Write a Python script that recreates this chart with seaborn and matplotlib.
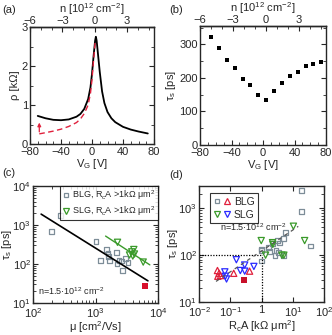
import numpy as np
import pandas as pd
import matplotlib
matplotlib.use("Agg")
import matplotlib.pyplot as plt
import seaborn as sns
from matplotlib.ticker import MultipleLocator, LogLocator, FixedLocator, FuncFormatter, NullFormatter
from matplotlib.lines import Line2D
from matplotlib.legend_handler import HandlerTuple

# ---------------- data ----------------
# (a) resistivity vs gate voltage
vg_black = [-70, -60, -50, -40, -30, -20, -15, -10, -5, -2, 0, 2, 4, 5, 6, 8, 10, 13, 16, 20, 25, 30, 40, 50, 60, 72]
rho_black = [0.72, 0.66, 0.62, 0.61, 0.63, 0.70, 0.77, 0.90, 1.15, 1.45, 1.80, 2.25, 2.65, 2.75, 2.65, 2.25, 1.85, 1.35, 1.05, 0.82, 0.66, 0.56, 0.44, 0.37, 0.32, 0.27]
vg_red = [-68, -60, -50, -40, -30, -20, -15, -10, -5, -2, 0, 2, 4]
rho_red = [0.26, 0.29, 0.33, 0.38, 0.45, 0.55, 0.64, 0.78, 1.00, 1.30, 1.65, 2.15, 2.60]
arrow_v = [-68, -68]
arrow_rho = [0.24, 0.62]

# (b) spin lifetime vs gate voltage
vg_tau = [-66, -56, -46, -36, -26, -16, -6, 4, 14, 24, 34, 44, 54, 64, 74]
tau_vg = [321, 290, 253, 229, 197, 178, 149, 135, 160, 184, 205, 219, 235, 243, 249]

# (c) spin lifetime vs mobility
mu_blg = [198, 275, 1020, 1210, 1490, 1590, 1630, 1660, 2180, 2210, 2380, 2620, 2690, 2990, 3300]
tau_blg = [690, 1770, 370, 125, 240, 185, 155, 122, 200, 100, 125, 120, 68, 140, 110]
mu_slg = [2250, 3500, 3800, 4100, 4200, 3950, 5800]
tau_slg = [360, 170, 205, 235, 180, 160, 112]
mu_red = [6300]
tau_red = [28]
fit_blg_mu = [135, 6900]
fit_blg_tau = [1900, 37]
fit_slg_mu = [1450, 7400]
fit_slg_tau = [520, 95]

# (d) spin lifetime vs contact resistance area product
rca_blg_gray = [19, 19.5, 5.8, 5.1, 3.3, 2.3, 1.67, 1.02, 0.98, 1.8, 2.9, 3.5, 2.7, 5.1, 0.98, 38, 3.7]
tau_blg_gray = [2380, 843, 300, 223, 205, 179, 146, 135, 124, 120, 128, 115, 97, 97, 75, 157, 182]
rca_slg_green = [0.98, 1.35, 2.3, 2.25, 4.5, 5.2, 10.5, 24]
tau_slg_green = [205, 100, 170, 185, 100, 100, 415, 205]
rca_blg_red = [0.039, 0.044, 0.040, 0.049, 0.129, 0.416]
tau_blg_red = [47, 41, 35.5, 36.7, 41, 45.6]
rca_slg_blue = [0.067, 0.070, 0.076, 0.157, 0.21, 0.29, 0.29, 0.57]
tau_slg_blue = [44, 35.5, 31, 80, 47, 45.6, 61.6, 57.5]
rca_sq = [0.275]
tau_sq = [29.5]
dash_rca = [0.035, 15]
dash_tau = [27.5, 412]
guide_h_rca = [0.01, 1]
guide_h_tau = [100, 100]
guide_v_rca = [1, 1]
guide_v_tau = [10, 100]

# ---------------- style ----------------
sns.set_style("ticks")
plt.rcParams["font.family"] = ["Liberation Sans", "DejaVu Sans"]
plt.rcParams["font.size"] = 8
plt.rcParams["mathtext.fontset"] = "custom"
plt.rcParams["mathtext.rm"] = "Liberation Sans"
plt.rcParams["mathtext.it"] = "Liberation Sans:italic"
plt.rcParams["mathtext.bf"] = "Liberation Sans:bold"
plt.rcParams["axes.linewidth"] = 1.0
plt.rcParams["xtick.direction"] = "in"
plt.rcParams["ytick.direction"] = "in"
plt.rcParams["xtick.major.size"] = 3.5
plt.rcParams["ytick.major.size"] = 3.5
plt.rcParams["xtick.minor.size"] = 2
plt.rcParams["ytick.minor.size"] = 2
plt.rcParams["xtick.major.pad"] = 2.5
plt.rcParams["ytick.major.pad"] = 1.5

GRAY = "#7d8d98"
GREEN = "#3a9a2a"
RED = "#e0203c"
BLUE = "#2a2aff"

fig = plt.figure(figsize=(3.32, 3.35), dpi=100)
W, H = 332.0, 335.0

def make_ax(x0, x1, y0, y1):
    return fig.add_axes([x0 / W, 1 - y1 / H, (x1 - x0) / W, (y1 - y0) / H])

ax_a = make_ax(30, 154, 27, 144)
ax_b = make_ax(200, 326, 26, 145)
ax_c = make_ax(33, 158, 186, 303)
ax_d = make_ax(199, 324, 186, 302)

def v2n(v):
    return (np.asarray(v) - 3.6) / 13.9

def n2v(n):
    return np.asarray(n) * 13.9 + 3.6

for ax in (ax_a, ax_b):
    ax.set_xlim(-80, 80)
    ax.xaxis.set_major_locator(MultipleLocator(40))
    ax.xaxis.set_minor_locator(MultipleLocator(10))
    ax.tick_params(which="both", top=False, right=True)
    ax.set_xlabel("V$_\\mathrm{G}$ [V]", labelpad=-0.5)
    sec = ax.secondary_xaxis("top", functions=(v2n, n2v))
    sec.set_xticks([-6, -3, 0, 3])
    sec.xaxis.set_minor_locator(MultipleLocator(1))
    sec.tick_params(which="both", direction="in", pad=1)
    sec.set_xlabel("n [10$^{12}$ cm$^{-2}$]", labelpad=2)

# (a)
sns.lineplot(x=vg_black, y=rho_black, ax=ax_a, color="black", lw=1.3, sort=False, estimator=None)
sns.lineplot(x=vg_red, y=rho_red, ax=ax_a, color=RED, lw=1.0, sort=False, estimator=None, dashes=False)
ax_a.lines[-1].set_linestyle((0, (4, 2.5)))
ax_a.annotate("", xy=(arrow_v[1], arrow_rho[1]), xytext=(arrow_v[0], arrow_rho[0]),
              arrowprops=dict(arrowstyle="-|>", color=RED, lw=0.9, mutation_scale=5))
ax_a.set_ylim(0, 3)
ax_a.yaxis.set_major_locator(MultipleLocator(1))
ax_a.yaxis.set_minor_locator(MultipleLocator(0.5))
ax_a.set_ylabel("ρ [kΩ]", labelpad=1)

# (b)
sns.scatterplot(x=vg_tau, y=tau_vg, ax=ax_b, color="black", marker="s", s=9, linewidth=0)
ax_b.set_ylim(0, 355)
ax_b.yaxis.set_major_locator(MultipleLocator(100))
ax_b.yaxis.set_minor_locator(MultipleLocator(50))
ax_b.set_ylabel("τ$_\\mathrm{s}$ [ps]", labelpad=1)

# log axes common
for ax in (ax_c, ax_d):
    ax.set_xscale("log")
    ax.set_yscale("log")
    ax.tick_params(which="both", top=True, right=True)
    ax.xaxis.set_minor_locator(LogLocator(base=10, subs=np.arange(2, 10)))
    ax.yaxis.set_minor_locator(LogLocator(base=10, subs=np.arange(2, 10)))
    ax.xaxis.set_minor_formatter(NullFormatter())
    ax.yaxis.set_minor_formatter(NullFormatter())
    ax.set_ylabel("τ$_\\mathrm{s}$ [ps]", labelpad=-1)

# (c)
sns.lineplot(x=fit_blg_mu, y=fit_blg_tau, ax=ax_c, color="black", lw=1.2, sort=False, estimator=None)
sns.lineplot(x=fit_slg_mu, y=fit_slg_tau, ax=ax_c, color=GREEN, lw=1.0, sort=False, estimator=None)
sns.scatterplot(x=mu_blg, y=tau_blg, ax=ax_c, marker="s", s=12, facecolor="none", edgecolor=GRAY, linewidth=0.9)
sns.scatterplot(x=mu_slg, y=tau_slg, ax=ax_c, marker="v", s=20, facecolor="none", edgecolor=GREEN, linewidth=0.9)
sns.scatterplot(x=mu_red, y=tau_red, ax=ax_c, marker="s", s=16, color="#d8102c", linewidth=0)
ax_c.set_xlim(1e2, 1e4)
ax_c.set_ylim(1e1, 1e4)
ax_c.set_xlabel("μ [cm$^2$/Vs]", labelpad=-0.5)
h1 = Line2D([], [], ls="none", marker="s", ms=3.5, mfc="none", mec=GRAY, mew=0.9)
h2 = Line2D([], [], ls="none", marker="v", ms=4.5, mfc="none", mec=GREEN, mew=0.9)
leg = ax_c.legend([h1, h2], ["BLG, R$_\\mathrm{c}$A >1kΩ μm$^2$", "SLG, R$_\\mathrm{c}$A >1kΩ μm$^2$"],
                  loc="upper right", bbox_to_anchor=(1.0, 1.0), borderaxespad=0.0, fontsize=6.5,
                  handlelength=0.8, handletextpad=0.3, borderpad=0.25, labelspacing=0.25,
                  frameon=True, fancybox=False, edgecolor="black")
leg.get_frame().set_linewidth(0.8)
ax_c.text(0.04, 0.1, "n=1.5·10$^{12}$ cm$^{-2}$", transform=ax_c.transAxes, fontsize=6.5, va="center", ha="left")

# (d)
sns.lineplot(x=guide_h_rca, y=guide_h_tau, ax=ax_d, color="black", lw=0.9, sort=False, estimator=None)
ax_d.lines[-1].set_linestyle((0, (1, 1.2)))
sns.lineplot(x=guide_v_rca, y=guide_v_tau, ax=ax_d, color="black", lw=0.9, sort=False, estimator=None)
ax_d.lines[-1].set_linestyle((0, (1, 1.2)))
sns.lineplot(x=dash_rca, y=dash_tau, ax=ax_d, color="#555555", lw=0.9, sort=False, estimator=None)
ax_d.lines[-1].set_linestyle((0, (3, 3)))
sns.scatterplot(x=rca_blg_gray, y=tau_blg_gray, ax=ax_d, marker="s", s=12, facecolor="none", edgecolor=GRAY, linewidth=0.9)
sns.scatterplot(x=rca_slg_green, y=tau_slg_green, ax=ax_d, marker="v", s=20, facecolor="none", edgecolor=GREEN, linewidth=0.9)
sns.scatterplot(x=rca_blg_red, y=tau_blg_red, ax=ax_d, marker="^", s=20, facecolor="none", edgecolor=RED, linewidth=0.9)
sns.scatterplot(x=rca_slg_blue, y=tau_slg_blue, ax=ax_d, marker="v", s=20, facecolor="none", edgecolor=BLUE, linewidth=0.9)
sns.scatterplot(x=rca_sq, y=tau_sq, ax=ax_d, marker="s", s=16, color="#c8102a", linewidth=0)
ax_d.set_xlim(1e-2, 1e2)
ax_d.set_ylim(1e1, 3e3)

def xfmt(v, pos):
    if abs(v - 1) < 1e-9:
        return "1"
    e = int(round(np.log10(v)))
    return "10$^{%d}$" % e

ax_d.xaxis.set_major_locator(FixedLocator([1e-2, 1e-1, 1, 1e1, 1e2]))
ax_d.xaxis.set_major_formatter(FuncFormatter(xfmt))
ax_d.set_xlabel("R$_\\mathrm{c}$A [kΩ μm$^2$]", labelpad=-0.5)
hb1 = Line2D([], [], ls="none", marker="s", ms=3.5, mfc="none", mec=GRAY, mew=0.9)
hb2 = Line2D([], [], ls="none", marker="^", ms=4.5, mfc="none", mec=RED, mew=0.9)
hs1 = Line2D([], [], ls="none", marker="v", ms=4.5, mfc="none", mec=GREEN, mew=0.9)
hs2 = Line2D([], [], ls="none", marker="v", ms=4.5, mfc="none", mec=BLUE, mew=0.9)
leg2 = ax_d.legend([(hb1, hb2), (hs1, hs2)], ["BLG", "SLG"], loc="upper left", bbox_to_anchor=(0.09, 0.94),
                   borderaxespad=0.0, fontsize=7.5, handler_map={tuple: HandlerTuple(ndivide=None, pad=0.4)},
                   handlelength=1.6, handletextpad=0.3, borderpad=0.35, labelspacing=0.3,
                   frameon=True, fancybox=False, edgecolor="black")
leg2.get_frame().set_linewidth(0.8)
ax_d.text(0.17, 0.645, "n=1.5·10$^{12}$ cm$^{-2}$", transform=ax_d.transAxes, fontsize=6.5, va="center", ha="left")

for ax, lab, x, y in ((ax_a, "(a)", 2, 10), (ax_b, "(b)", 169, 10), (ax_c, "(c)", 2, 173), (ax_d, "(d)", 169, 175)):
    fig.text(x / W, 1 - y / H, lab, fontsize=8, ha="left", va="center")

fig.savefig("out.png", dpi=100)
